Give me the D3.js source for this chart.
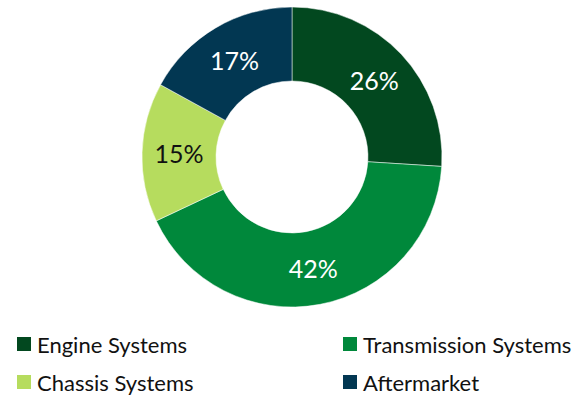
<!DOCTYPE html>
<html>
<head>
<meta charset="utf-8">
<script src="https://cdn.jsdelivr.net/npm/d3@7"></script>
<style>
  body { margin: 0; background: #fff; }
  svg { display: block; font-family: Lato, "Open Sans", sans-serif; }
</style>
</head>
<body>
<svg id="chart" width="585" height="395"></svg>
<script>
const segments = ['Engine Systems', 'Transmission Systems', 'Chassis Systems', 'Aftermarket'];
const shares = [26, 42, 15, 17];
const colors = ['#02481f', '#00883b', '#b6dc5e', '#023752'];
const labelColors = ['#fff', '#fff', '#111', '#fff'];

const svg = d3.select('#chart');
const cx = 292, cy = 157, outerR = 150, innerR = 76;

const pie = d3.pie().sort(null).value(d => d);
const arc = d3.arc().innerRadius(innerR).outerRadius(outerR);
const labelArc = d3.arc().innerRadius(113).outerRadius(113);

const g = svg.append('g').attr('transform', `translate(${cx},${cy})`);

const arcs = pie(shares);

g.selectAll('path')
  .data(arcs)
  .enter()
  .append('path')
  .attr('d', arc)
  .attr('fill', (d, i) => colors[i])
  .attr('stroke', '#fff')
  .attr('stroke-width', 0.5);

g.selectAll('.lbl')
  .data(arcs)
  .enter()
  .append('text')
  .attr('class', 'lbl')
  .attr('transform', d => `translate(${labelArc.centroid(d)})`)
  .attr('text-anchor', 'middle')
  .attr('dominant-baseline', 'central')
  .attr('font-size', '25px')
  .attr('fill', (d, i) => labelColors[i])
  .text(d => d.data + '%');

// Legend, 2 columns
const legX = [17, 343], legY = [344, 382];
const leg = svg.selectAll('.leg')
  .data(segments)
  .enter()
  .append('g')
  .attr('class', 'leg')
  .attr('transform', (d, i) => `translate(${legX[i % 2]},${legY[Math.floor(i / 2)]})`);

leg.append('rect')
  .attr('x', 0).attr('y', -7)
  .attr('width', 14).attr('height', 14)
  .attr('fill', (d, i) => colors[i]);

leg.append('text')
  .attr('x', 20)
  .attr('dominant-baseline', 'central')
  .attr('font-size', '22px')
  .attr('fill', '#111')
  .text(d => d);
</script>
</body>
</html>
